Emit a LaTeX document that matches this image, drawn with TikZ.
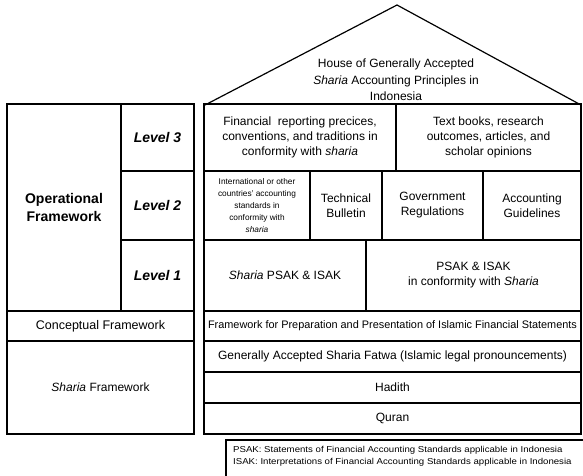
\documentclass[tikz,border=0pt]{standalone}
\usepackage{fontspec}
\setmainfont{Liberation Sans}
\newfontfamily\legendfont[FakeStretch=1.12]{Liberation Sans}
\newcommand\hcell[7][]{%
  \node[cellbox,#1, minimum width={(#5-#3)*1pt}, minimum height={(#6-#4)*1pt}]
    (#2) at ({(#3+#5)/2},{(#4+#6)/2}) {#7};}
\begin{document}
\begin{tikzpicture}[x=1pt,y=-1pt,
  cellbox/.style={draw, line width=1.2pt, inner sep=0pt, align=center,
    font=\fontsize{12}{15}\selectfont},
  lvl/.style={font=\fontsize{14}{16}\selectfont\bfseries\itshape},
  small/.style={font=\fontsize{8.3}{12}\selectfont},
  roofline/.style={line width=1.2pt, line join=miter},
  legendbox/.style={draw, line width=1.2pt, inner sep=0pt}]
\useasboundingbox (0,0) rectangle (583,475);
% roof
\coordinate (roofL) at (205,105);
\coordinate (apex) at (397,5);
\coordinate (roofR) at (581,105);
\draw[roofline] (roofL) -- (apex) -- (roofR);
\node[align=center, font=\fontsize{12}{16.5}\selectfont] (roof) at (396,80)
  {House of Generally Accepted\\\textit{Sharia} Accounting Principles in\\Indonesia};
% left block
\hcell[font=\fontsize{14}{18}\selectfont\bfseries]{opf}{7}{104}{121}{311}{Operational\\Framework}
\hcell[lvl]{lthree}{121}{104}{194}{171}{Level 3}
\hcell[lvl]{ltwo}{121}{171}{194}{240}{Level 2}
\hcell[lvl]{lone}{121}{240}{194}{311}{Level 1}
\hcell[font=\fontsize{12.5}{15}\selectfont]{cf}{7}{311}{194}{341}{Conceptual Framework}
\hcell{sf}{7}{341}{194}{434}{\textit{Sharia} Framework}
% right block
\hcell{rthreea}{204}{104}{396}{171}{Financial\ \ reporting precices,\\conventions, and traditions in\\conformity with \textit{sharia}}
\hcell{rthreeb}{396}{104}{581}{171}{Text books, research\\outcomes, articles, and\\scholar opinions}
\hcell[small]{rtwoa}{204}{171}{310}{240}{International or other\\countries' accounting\\standards in\\conformity with\\\textit{sharia}}
\hcell{rtwob}{310}{171}{382}{240}{Technical\\Bulletin}
\hcell{rtwoc}{382}{171}{483}{240}{Government\\Regulations}
\hcell{rtwod}{483}{171}{581}{240}{Accounting\\Guidelines}
\hcell{ronea}{204}{240}{366}{311}{\textit{Sharia} PSAK \& ISAK}
\hcell{roneb}{366}{240}{581}{311}{PSAK \& ISAK\\in conformity with \textit{Sharia}}
\hcell[font=\fontsize{10.9}{12}\selectfont]{rc}{204}{311}{581}{341}{Framework for Preparation and Presentation of Islamic Financial Statements}
\hcell{rf}{204}{341}{581}{372}{Generally Accepted Sharia Fatwa (Islamic legal pronouncements)}
\hcell{rh}{204}{372}{581}{403}{Hadith}
\hcell{rq}{204}{403}{581}{434}{Quran}
% legend
\draw[legendbox] (226,478) -- (226,440) -- (590,440);
\node[anchor=north west, align=left, inner sep=0pt, font=\legendfont\fontsize{8.6}{12.3}\selectfont] (legend) at (233,446)
  {PSAK: Statements of Financial Accounting Standards applicable in Indonesia\\
   ISAK: Interpretations of Financial Accounting Standards applicable in Indonesia};
\end{tikzpicture}
\end{document}
